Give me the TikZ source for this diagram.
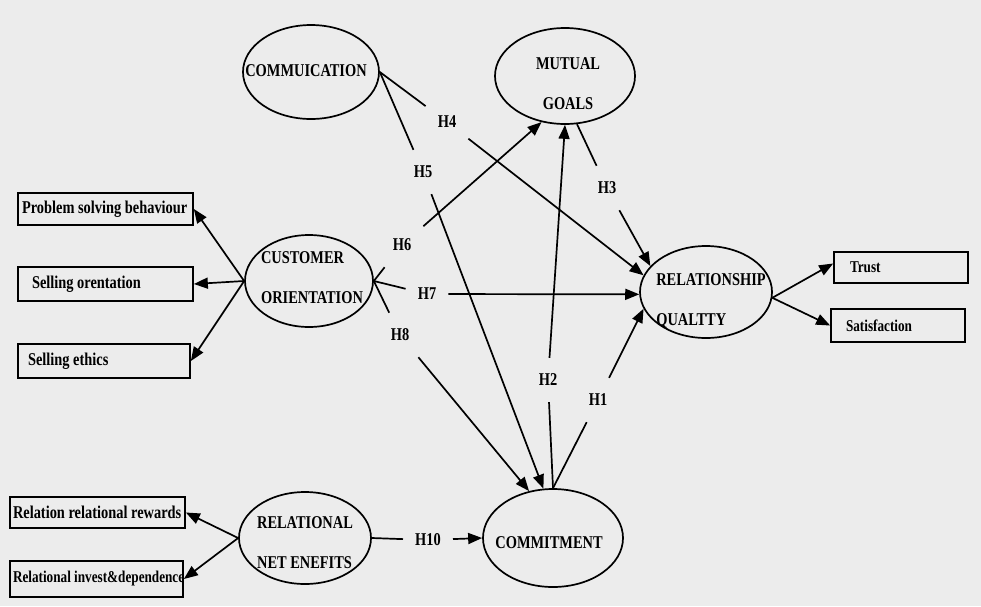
\documentclass[tikz,border=0pt]{standalone}
\usepackage{fontspec}
\setmainfont{Liberation Serif}[FakeStretch=0.8]
\usetikzlibrary{arrows.meta,shapes.geometric}
\definecolor{paper}{RGB}{236,236,236}
\newcommand{\tightsp}{\spaceskip=0.2em\relax}
\begin{document}
\begin{tikzpicture}[x=1pt,y=-1pt,
 lat/.style={ellipse,draw,line width=1.7pt,inner sep=0pt},
 ltext/.style={inner sep=0pt,font=\bfseries\fontsize{18}{40}\selectfont,execute at begin node=\tightsp},
 ind/.style={draw,line width=1.7pt,rectangle,inner ysep=0pt,align=left,font=\bfseries\fontsize{18}{20}\selectfont,execute at begin node=\tightsp},
 smallfont/.style={font=\bfseries\fontsize{16.5}{18}\selectfont},
 hyp/.style={inner xsep=12pt,inner ysep=16pt,font=\bfseries\fontsize{18}{20}\selectfont},
 conn/.style={line width=1.7pt},
 arr/.style={conn,-{Triangle[length=14pt,width=11pt]}}]
\fill[paper] (0,0) rectangle (981,606);
\useasboundingbox (0,0) rectangle (981,606);

% latent constructs
\node[lat,minimum width=136pt,minimum height=94pt] (comm) at (311,72) {};
\node[lat,minimum width=140pt,minimum height=96pt] (mg) at (565,76) {};
\node[lat,minimum width=128pt,minimum height=92pt] (co) at (309,281) {};
\node[lat,minimum width=132pt,minimum height=92pt] (rq) at (706,292) {};
\node[lat,minimum width=132pt,minimum height=92pt] (rnb) at (305,538) {};
\node[lat,minimum width=140pt,minimum height=98pt] (cm) at (553,538) {};

\node[ltext,align=center] (comm-t) at (306,71) {COMMUICATION};
\node[ltext,align=center] (mg-t) at (568,84) {MUTUAL\\GOALS};
\node[ltext,align=left] (co-t) at (312,278) {CUSTOMER\\ORIENTATION};
\node[ltext,align=left] (rq-t) at (711,301) {RELATIONSHIP\\QUALTTY};
\node[ltext,align=left] (rnb-t) at (305,543) {RELATIONAL\\NET ENEFITS};
\node[ltext,align=center] (cm-t) at (549,543) {COMMITMENT};

% indicators
\node[ind,minimum width=175pt,minimum height=32pt,text width=167pt,inner xsep=4pt] (psb) at (105.5,209) {\mbox{Problem solving behaviour}};
\node[ind,minimum width=175pt,minimum height=34pt,text width=147pt,inner xsep=14pt] (so) at (105.5,284) {Selling orentation};
\node[ind,minimum width=172pt,minimum height=34pt,text width=152pt,inner xsep=10pt] (se) at (104,361) {Selling ethics};
\node[ind,minimum width=175pt,minimum height=31pt,text width=169pt,inner xsep=3pt] (rrr) at (97.5,512.5) {\mbox{Relation relational rewards}};
\node[ind,smallfont,minimum width=173pt,minimum height=36pt,text width=167pt,inner xsep=3pt] (rid) at (96.5,579) {\mbox{Relational invest\&dependence}};
\node[ind,smallfont,minimum width=134pt,minimum height=31pt,text width=102pt,inner xsep=16pt] (trust) at (901,267.5) {Trust};
\node[ind,smallfont,minimum width=134pt,minimum height=33pt,text width=104pt,inner xsep=15pt] (sat) at (898,325.5) {Satisfaction};

% hypothesis labels
\node[hyp] (h1) at (598,400) {H1};
\node[hyp] (h2) at (548,380) {H2};
\node[hyp] (h3) at (607,188) {H3};
\node[hyp] (h4) at (447,122) {H4};
\node[hyp] (h5) at (423,172) {H5};
\node[hyp] (h6) at (402,245) {H6};
\node[hyp] (h7) at (427,294) {H7};
\node[hyp] (h8) at (400,335) {H8};
\node[hyp] (h10) at (428,540) {H10};

% measurement arrows
\draw[arr] (co.west) -- (psb.east);
\draw[arr] (co.west) -- (so.east);
\draw[arr] (co.west) -- (se.east);
\draw[arr] (rnb.west) -- (rrr.east);
\draw[arr] (rnb.west) -- (rid.east);
\draw[arr] (rq.-5) -- ([yshift=4pt]trust.west);
\draw[arr] (rq.-5) -- (sat.west);

% structural paths
\draw[conn] (comm.east) -- (h4); \draw[arr] (h4) -- (rq.165);
\draw[conn] (comm.east) -- (h5); \draw[arr] (h5) -- (cm.101);
\draw[conn] (co.east) -- (h6); \draw[arr] (h6) -- (mg.243);
\draw[conn] (co.east) -- (h7); \draw[arr] (h7) -- (rq.182);
\draw[conn] (co.east) -- (h8); \draw[arr] (h8) -- (cm.117);
\draw[conn] (cm.north) -- (h2); \draw[arr] (h2) -- (mg.south);
\draw[conn] (cm.north) -- (h1); \draw[arr] (h1) -- (rq.195);
\draw[conn] (mg.284) -- (h3); \draw[arr] (h3) -- (rq.155);
\draw[conn] (rnb.east) -- (h10); \draw[arr] (h10) -- (cm.west);
\end{tikzpicture}
\end{document}
